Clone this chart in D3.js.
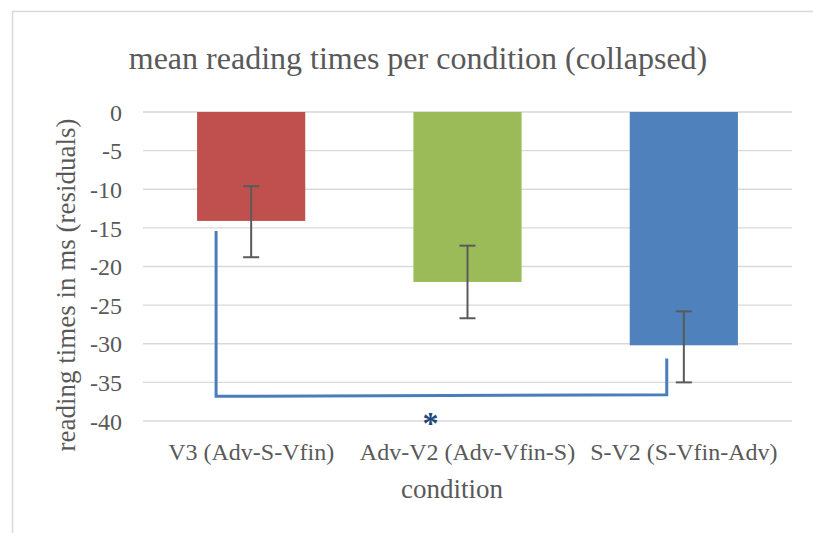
<!DOCTYPE html>
<html>
<head>
<meta charset="utf-8">
<script src="https://cdn.jsdelivr.net/npm/d3@7/dist/d3.min.js"></script>
<style>
  body { margin: 0; background: #fff; }
  svg text { font-family: "Liberation Serif", "Times New Roman", serif; fill: #595959; }
</style>
</head>
<body>
<svg width="813" height="533"></svg>
<script>
// data
const categories = ["V3 (Adv-S-Vfin)", "Adv-V2 (Adv-Vfin-S)", "S-V2 (S-Vfin-Adv)"];
const means = [-14.1, -22.0, -30.2];
const errLow = [-18.8, -26.7, -35.0];
const errHigh = [-9.6, -17.3, -25.8];
const colors = ["#c0504d", "#9bbb59", "#4f81bd"];
const yTicks = [0, -5, -10, -15, -20, -25, -30, -35, -40];
// significance bracket: from bar 0 to bar 2, end heights
const sigFrom = [0, -15.4];
const sigTo = [2, -31.9];
const sigLevel = [-36.8, -36.6];

const svg = d3.select("svg");

// outer frame (cropped)
svg.append("path")
    .attr("d", "M12.5,533 V11.5 H813")
    .attr("fill", "none")
    .attr("stroke", "#d9d9d9")
    .attr("stroke-width", 1.5);

const margin = {left: 143, right: 21, top: 112, bottom: 112};
const width = 813 - margin.left - margin.right;

const x = d3.scaleBand()
    .domain(categories)
    .range([margin.left, margin.left + width])
    .paddingInner(0.5)
    .paddingOuter(0.25);

const y = d3.scaleLinear()
    .domain([0, -40])
    .range([112, 421]);

// gridlines
svg.append("g")
    .selectAll("line")
    .data(yTicks)
    .enter().append("line")
    .attr("x1", margin.left)
    .attr("x2", margin.left + width)
    .attr("y1", d => y(d))
    .attr("y2", d => y(d))
    .attr("stroke", "#d9d9d9")
    .attr("stroke-width", 1.3);

// y axis labels (plain hyphen like the original)
const yAxis = d3.axisLeft(y).tickValues(yTicks).tickSize(0).tickPadding(0)
    .tickFormat(d => String(d));
const ga = svg.append("g").attr("transform", "translate(122,0)").call(yAxis);
ga.select(".domain").remove();
ga.selectAll("text")
    .attr("font-size", 24)
    .attr("font-family", "Liberation Serif, serif")
    .attr("fill", "#595959")
    .attr("dy", "0.34em");

// bars
svg.append("g")
    .selectAll("rect")
    .data(categories)
    .enter().append("rect")
    .attr("x", d => x(d))
    .attr("width", x.bandwidth())
    .attr("y", y(0))
    .attr("height", (d, i) => y(means[i]) - y(0))
    .attr("fill", (d, i) => colors[i]);

// error bars
const eb = svg.append("g").attr("stroke", "#5a5a5a").attr("stroke-width", 2);
categories.forEach(function (c, i) {
    let cx = x(c) + x.bandwidth() / 2;
    eb.append("line").attr("x1", cx).attr("x2", cx).attr("y1", y(errHigh[i])).attr("y2", y(errLow[i]));
    eb.append("line").attr("x1", cx - 8).attr("x2", cx + 8).attr("y1", y(errHigh[i])).attr("y2", y(errHigh[i]));
    eb.append("line").attr("x1", cx - 8).attr("x2", cx + 8).attr("y1", y(errLow[i])).attr("y2", y(errLow[i]));
});

// significance bracket
const x0 = x(categories[sigFrom[0]]) + 19;
const x1 = x(categories[sigTo[0]]) + 37;
svg.append("path")
    .attr("d", "M" + x0 + "," + y(sigFrom[1]) +
        " L" + x0 + "," + y(sigLevel[0]) +
        " L" + x1 + "," + y(sigLevel[1]) +
        " L" + x1 + "," + y(sigTo[1]))
    .attr("fill", "none")
    .attr("stroke", "#4a7ebb")
    .attr("stroke-width", 3);

svg.append("text")
    .attr("x", (x(categories[0]) + x(categories[2]) + x.bandwidth()) / 2 - 37)
    .attr("y", 434)
    .attr("text-anchor", "middle")
    .attr("font-size", 32)
    .attr("font-weight", "bold")
    .style("fill", "#1f497d")
    .text("*");

// x labels
svg.append("g")
    .selectAll("text")
    .data(categories)
    .enter().append("text")
    .attr("x", d => x(d) + x.bandwidth() / 2)
    .attr("y", 460)
    .attr("text-anchor", "middle")
    .attr("font-size", 24)
    .text(d => d);

// axis titles
svg.append("text")
    .attr("x", 452)
    .attr("y", 498)
    .attr("text-anchor", "middle")
    .attr("font-size", 27)
    .text("condition");

svg.append("text")
    .attr("transform", "translate(75,285) rotate(-90)")
    .attr("text-anchor", "middle")
    .attr("font-size", 27)
    .text("reading times in ms (residuals)");

// title
svg.append("text")
    .attr("x", 418)
    .attr("y", 69)
    .attr("text-anchor", "middle")
    .attr("font-size", 32)
    .text("mean reading times per condition (collapsed)");
</script>
</body>
</html>
